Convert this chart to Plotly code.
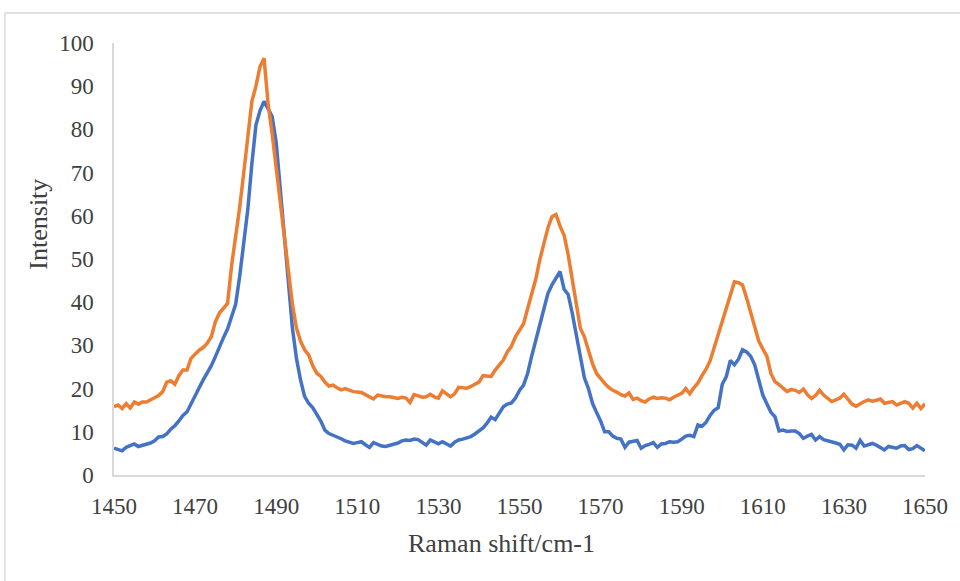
import plotly.graph_objects as go

# Raman shift axis (cm-1), 1 cm-1 steps
shift = list(range(1450, 1651))

blue = [
    6.2, 6.0, 5.6, 6.4, 6.9, 7.2, 6.6, 6.8, 7.1, 7.4,
    7.9, 8.8, 8.9, 9.5, 10.6, 11.4, 12.5, 13.8, 14.6, 16.6,
    18.3, 20.2, 22.0, 23.5, 25.3, 27.4, 29.8, 31.8, 33.8, 36.5,
    39.5, 46.0, 53.5, 61.5, 72.0, 81.0, 84.3, 86.5, 84.8, 83.0,
    77.0, 66.5, 54.4, 44.0, 34.0, 27.0, 22.0, 18.2, 16.6, 15.6,
    14.0, 12.5, 10.4, 9.6, 9.2, 8.9, 8.4, 7.9, 7.6, 7.3,
    7.5, 7.7, 7.0, 6.4, 7.5, 7.0, 6.7, 6.6, 6.8, 7.0,
    7.4, 7.9, 8.1, 8.0, 8.3, 8.2, 7.6, 6.9, 8.1, 7.6,
    7.2, 7.7, 7.2, 6.7, 7.6, 8.1, 8.3, 8.5, 8.9, 9.5,
    10.2, 10.9, 12.0, 13.4, 12.8, 14.5, 15.8, 16.4, 16.7, 17.8,
    19.6, 20.8, 23.5, 27.5, 31.0, 34.3, 38.0, 42.0, 44.0, 45.5,
    47.1, 43.0, 41.8, 37.5, 32.5, 27.0, 22.5, 20.0, 16.6, 14.5,
    12.5, 10.0, 10.0, 9.0, 8.5, 8.3, 6.4, 7.6, 7.9, 8.0,
    6.2, 6.8, 7.1, 7.5, 6.4, 7.2, 7.3, 7.7, 7.6, 7.7,
    8.3, 9.0, 9.2, 8.9, 11.6, 11.3, 12.2, 13.8, 15.0, 15.6,
    21.0, 22.8, 26.5, 25.5, 26.8, 29.0, 28.5, 27.5, 25.5, 22.0,
    18.5, 16.5, 14.5, 13.5, 10.2, 10.4, 10.1, 10.2, 10.2, 9.6,
    8.5, 9.0, 9.4, 8.1, 8.9, 8.2, 8.0, 7.7, 7.4, 7.1,
    5.8, 7.0, 6.9, 6.2, 8.0, 6.7, 7.0, 7.3, 6.9, 6.4,
    5.8, 6.6, 6.4, 6.2, 6.7, 6.8, 5.9, 6.1, 6.8, 6.3,
    5.6,
]

orange = [
    15.8, 16.2, 15.4, 16.5, 15.5, 16.9, 16.4, 16.9, 16.9, 17.3,
    17.9, 18.4, 19.3, 21.5, 21.8, 21.0, 23.0, 24.3, 24.3, 27.0,
    28.0, 28.9, 29.5, 30.5, 32.0, 35.5, 37.5, 38.6, 39.7, 48.5,
    55.0, 62.0, 70.0, 78.5, 86.5, 90.0, 94.5, 96.5, 86.0, 79.0,
    71.0, 63.5, 54.0, 47.0, 39.5, 34.0, 31.0, 29.0, 27.8, 25.3,
    23.6, 22.8, 21.5, 20.6, 20.8, 20.2, 19.7, 20.0, 19.6, 19.3,
    19.2, 19.1, 18.6, 18.0, 17.6, 18.5, 18.2, 18.1, 18.1, 17.8,
    17.7, 18.0, 17.8, 16.8, 18.6, 18.3, 18.0, 18.1, 18.7, 18.1,
    17.8, 19.5, 18.7, 18.1, 18.8, 20.3, 20.2, 20.1, 20.5, 21.0,
    21.5, 23.0, 23.0, 22.8, 24.3, 25.3, 26.6, 28.5, 29.8, 32.0,
    33.4, 35.0, 38.5, 42.0, 45.3, 49.8, 53.8, 57.2, 59.8, 60.3,
    57.6, 55.5, 51.0, 45.5, 40.0, 34.0, 32.0, 28.8, 25.8, 23.5,
    22.3, 21.2, 20.3, 19.6, 19.2, 18.6, 18.3, 19.0, 17.5, 17.8,
    17.2, 16.9, 17.6, 18.0, 17.7, 17.9, 17.8, 17.4, 18.0, 18.4,
    18.9, 20.0, 18.8, 20.2, 21.3, 23.0, 24.5, 26.4, 29.5, 32.0,
    35.5, 38.5, 41.5, 44.7, 44.5, 44.0, 41.0, 37.5, 34.3, 31.0,
    29.2, 27.5, 23.5, 21.6, 20.9, 20.0, 19.3, 19.8, 19.6, 19.1,
    19.9, 18.6, 17.7, 18.4, 19.6, 18.5, 17.8, 17.0, 17.4, 17.8,
    18.7, 17.6, 16.4, 15.9, 16.5, 17.0, 17.4, 17.1, 17.3, 17.6,
    16.6, 16.9, 17.0, 16.2, 16.7, 17.0, 16.6, 15.5, 16.6, 15.4,
    16.5,
]

x_ticks = list(range(1450, 1651, 20))
y_ticks = list(range(0, 101, 10))

x_title = "Raman shift/cm-1"
y_title = "Intensity"

BLUE = "#4472C4"
ORANGE = "#ED7D31"
AXIS = "#D9D9D9"
TEXT = "#404040"
FONT = "Liberation Serif, Times New Roman, serif"

# plot area in pixels: x 114..932, y 43..475
PL, PR, PT, PB = 114, 932, 43, 475
PW, PH = PR - PL, PB - PT


def px_x(p):
    return (p - PL) / PW


def px_y(p):
    return (PB - p) / PH


fig = go.Figure()
fig.add_trace(go.Scatter(x=shift, y=blue, mode="lines",
                         line=dict(color=BLUE, width=3.5), showlegend=False))
fig.add_trace(go.Scatter(x=shift, y=orange, mode="lines",
                         line=dict(color=ORANGE, width=3.5), showlegend=False))

# Chart frame (runs past the right and bottom edge of the page)
fig.add_shape(type="rect", xref="paper", yref="paper",
              x0=px_x(4), x1=px_x(975), y0=px_y(600), y1=px_y(13),
              line=dict(color=AXIS, width=1.5), fillcolor="rgba(0,0,0,0)",
              layer="below")

# Axis titles, centred on the chart area
fig.add_annotation(text=x_title, xref="paper", yref="paper",
                   x=px_x(505), y=px_y(543), showarrow=False,
                   xanchor="center", yanchor="middle",
                   font=dict(size=26, color=TEXT, family=FONT))
fig.add_annotation(text=y_title, xref="paper", yref="paper",
                   x=px_x(37), y=px_y(224), showarrow=False, textangle=-90,
                   xanchor="center", yanchor="middle",
                   font=dict(size=26, color=TEXT, family=FONT))

fig.update_layout(
    width=960, height=581,
    margin=dict(l=PL, r=960 - PR, t=PT, b=581 - PB),
    paper_bgcolor="white", plot_bgcolor="white",
    font=dict(family=FONT, size=23, color=TEXT),
    xaxis=dict(range=[1450, 1650], tickvals=x_ticks, ticks="",
               showgrid=False, zeroline=False, showline=True,
               linecolor=AXIS, linewidth=1.5, ticklabelstandoff=10),
    yaxis=dict(range=[0, 100], tickvals=y_ticks, ticks="",
               showgrid=False, zeroline=False, showline=True,
               linecolor=AXIS, linewidth=1.5, ticklabelstandoff=14),
)

fig.write_html("out.html")
